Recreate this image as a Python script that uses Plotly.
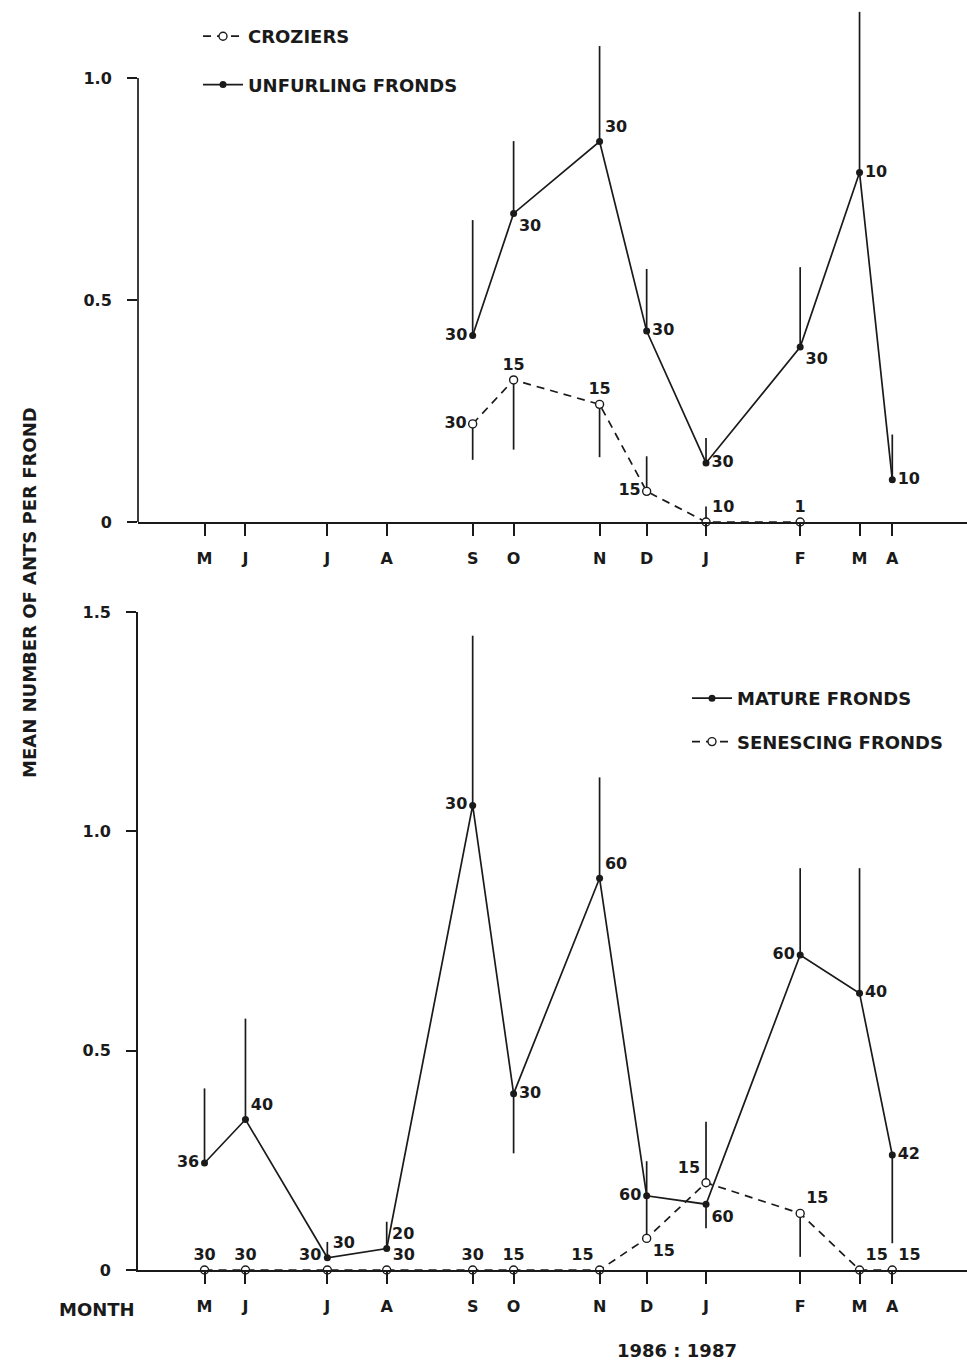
import plotly.graph_objects as go

# ---------------- data ----------------
months = ["M", "J", "J", "A", "S", "O", "N", "D", "J", "F", "M", "A"]
# sampling day (days after first sampling, May 1986)
sample_day = [0, 20, 60, 89, 131, 151, 193, 216, 245, 291, 320, 336]

# top panel: from September onward
top_days = sample_day[4:]
unfurl_mean = [0.42, 0.695, 0.857, 0.43, 0.133, 0.394, 0.787, 0.095]
unfurl_err_up = [0.26, 0.163, 0.215, 0.14, 0.056, 0.18, 0.362, 0.102]
unfurl_err_dn = [0, 0, 0, 0, 0, 0, 0, 0]
unfurl_n = ["30", "30", "30", "30", "30", "30", "10", "10"]

crozier_days = sample_day[4:10]
crozier_mean = [0.221, 0.320, 0.265, 0.069, 0.0, 0.0]
crozier_err_up = [0, 0, 0, 0.079, 0.035, 0]
crozier_err_dn = [0.081, 0.157, 0.119, 0, 0, 0]
crozier_n = ["30", "15", "15", "15", "10", "1"]

# bottom panel: all months
mature_mean = [0.244, 0.343, 0.028, 0.049, 1.059, 0.402, 0.893, 0.169, 0.150, 0.718, 0.631, 0.262]
mature_err_up = [0.17, 0.23, 0.036, 0.061, 0.387, 0, 0.23, 0.079, 0, 0.198, 0.285, 0]
mature_err_dn = [0, 0, 0, 0, 0, 0.136, 0, 0, 0.055, 0, 0, 0.201]
mature_n = ["36", "40", "30", "20", "30", "30", "60", "60", "60", "60", "40", "42"]

senesc_mean = [0, 0, 0, 0, 0, 0, 0, 0.072, 0.199, 0.129, 0, 0]
senesc_err_up = [0, 0, 0, 0, 0, 0, 0, 0.093, 0.139, 0, 0, 0]
senesc_err_dn = [0, 0, 0, 0, 0, 0, 0, 0, 0, 0.099, 0, 0]
senesc_n = ["30", "30", "30", "30", "30", "15", "15", "15", "15", "15", "15", "15"]

# ---------------- style ----------------
FONT = "DejaVu Sans"
INK = "#1a1a1a"
W, H = 967, 1361

unfurl_pos = ["middle left", "bottom right", "top right", "middle right",
              "middle right", "bottom right", "middle right", "middle right"]
crozier_pos = ["middle left", "top center", "top center", "middle left",
               "top right", "top center"]
mature_pos = ["middle left", "top right", "top right", "top right", "middle left",
              "middle right", "top right", "middle left", "bottom right",
              "middle left", "middle right", "middle right"]
senesc_pos = ["top center", "top center", "top left", "top right", "top center",
              "top center", "top left", "bottom right", "top left", "top right",
              "top right", "top right"]

def bfont(size):
    return dict(family=FONT, size=size, color=INK, weight="bold")

txtfont = bfont(16)

def err(up, dn):
    return dict(type="data", array=up, arrayminus=dn, symmetric=False,
                color=INK, thickness=1.7, width=0, visible=True)

fig = go.Figure()

fig.add_trace(go.Scatter(
    x=crozier_days, y=crozier_mean, name="CROZIERS",
    mode="lines+markers+text", text=crozier_n, textposition=crozier_pos,
    textfont=txtfont, cliponaxis=False,
    line=dict(color=INK, width=1.7, dash="8px,6px"),
    marker=dict(symbol="circle", size=8, color="white", line=dict(color=INK, width=1.4)),
    error_y=err(crozier_err_up, crozier_err_dn),
    xaxis="x", yaxis="y", legend="legend", legendgroup="a"))

fig.add_trace(go.Scatter(
    x=top_days, y=unfurl_mean, name="UNFURLING FRONDS",
    mode="lines+markers+text", text=unfurl_n, textposition=unfurl_pos,
    textfont=txtfont, cliponaxis=False,
    line=dict(color=INK, width=1.7),
    marker=dict(symbol="circle", size=7, color=INK),
    error_y=err(unfurl_err_up, unfurl_err_dn),
    xaxis="x", yaxis="y", legend="legend", legendgroup="b"))

fig.add_trace(go.Scatter(
    x=sample_day, y=mature_mean, name="MATURE FRONDS",
    mode="lines+markers+text", text=mature_n, textposition=mature_pos,
    textfont=txtfont, cliponaxis=False,
    line=dict(color=INK, width=1.7),
    marker=dict(symbol="circle", size=7, color=INK),
    error_y=err(mature_err_up, mature_err_dn),
    xaxis="x2", yaxis="y2", legend="legend2", legendgroup="c"))

fig.add_trace(go.Scatter(
    x=sample_day, y=senesc_mean, name="SENESCING FRONDS",
    mode="lines+markers+text", text=senesc_n, textposition=senesc_pos,
    textfont=txtfont, cliponaxis=False,
    line=dict(color=INK, width=1.7, dash="8px,6px"),
    marker=dict(symbol="circle", size=8, color="white", line=dict(color=INK, width=1.4)),
    error_y=err(senesc_err_up, senesc_err_dn),
    xaxis="x2", yaxis="y2", legend="legend2", legendgroup="d"))

x_left = 138
xrange = [-32.5, 372.5]
xdom = [x_left / W, 1.0]

def ydom(p0, p1):
    return [1 - p0 / H, 1 - p1 / H]

xcommon = dict(
    range=xrange, domain=xdom, tickmode="array", tickvals=sample_day, ticktext=months,
    ticks="outside", ticklen=12, tickwidth=1.7, tickcolor=INK, automargin=False,
    showline=True, linecolor=INK, linewidth=1.7, showgrid=False, zeroline=False,
    tickfont=bfont(16), ticklabelstandoff=9,
)
ycommon = dict(
    ticks="outside", ticklen=10, tickwidth=1.7, tickcolor=INK, automargin=False,
    showgrid=False, zeroline=False,
    tickfont=bfont(16), ticklabelstandoff=12,
)

fig.update_layout(
    template="none",
    width=W, height=H,
    margin=dict(l=0, r=0, t=0, b=0, pad=0, autoexpand=False),
    paper_bgcolor="white", plot_bgcolor="white",
    font=dict(family=FONT, color=INK),
    xaxis=dict(**xcommon, anchor="y"),
    yaxis=dict(**ycommon, range=[0, 1.16], domain=ydom(522, 7), anchor="x",
               tickvals=[0, 0.5, 1.0], ticktext=["0", "0.5", "1.0"], showline=False),
    xaxis2=dict(**xcommon, anchor="y2"),
    yaxis2=dict(**ycommon, range=[0, 1.5], domain=ydom(1270, 612), anchor="x2",
                tickvals=[0, 0.5, 1.0, 1.5], ticktext=["0", "0.5", "1.0", "1.5"],
                showline=True, linecolor=INK, linewidth=1.7),
    legend=dict(x=198 / W, y=1 - 18 / H, xanchor="left", yanchor="top",
                font=bfont(18), bgcolor="rgba(0,0,0,0)", borderwidth=0,
                traceorder="grouped", tracegroupgap=22, itemwidth=40),
    legend2=dict(x=687 / W, y=1 - 680 / H, xanchor="left", yanchor="top",
                 font=bfont(18), bgcolor="rgba(0,0,0,0)", borderwidth=0,
                 traceorder="grouped", tracegroupgap=17, itemwidth=40),
    showlegend=True,
)

# top panel vertical axis line stops at 1.0
fig.add_shape(type="line", xref="x domain", yref="y", x0=0, x1=0, y0=0, y1=1.0,
              line=dict(color=INK, width=1.7))

fig.add_annotation(text="MEAN NUMBER OF ANTS PER FROND", textangle=-90,
                   xref="paper", yref="paper", x=29 / W, y=1 - 593 / H,
                   xanchor="center", yanchor="middle",
                   showarrow=False, font=bfont(18))
fig.add_annotation(text="MONTH", xref="paper", yref="paper", x=97 / W, y=1 - 1309 / H,
                   xanchor="center", yanchor="middle",
                   showarrow=False, font=bfont(18))
fig.add_annotation(text="1986 : 1987", xref="paper", yref="paper", x=677 / W, y=1 - 1350 / H,
                   xanchor="center", yanchor="middle",
                   showarrow=False, font=bfont(18))

fig.write_html("out.html")
